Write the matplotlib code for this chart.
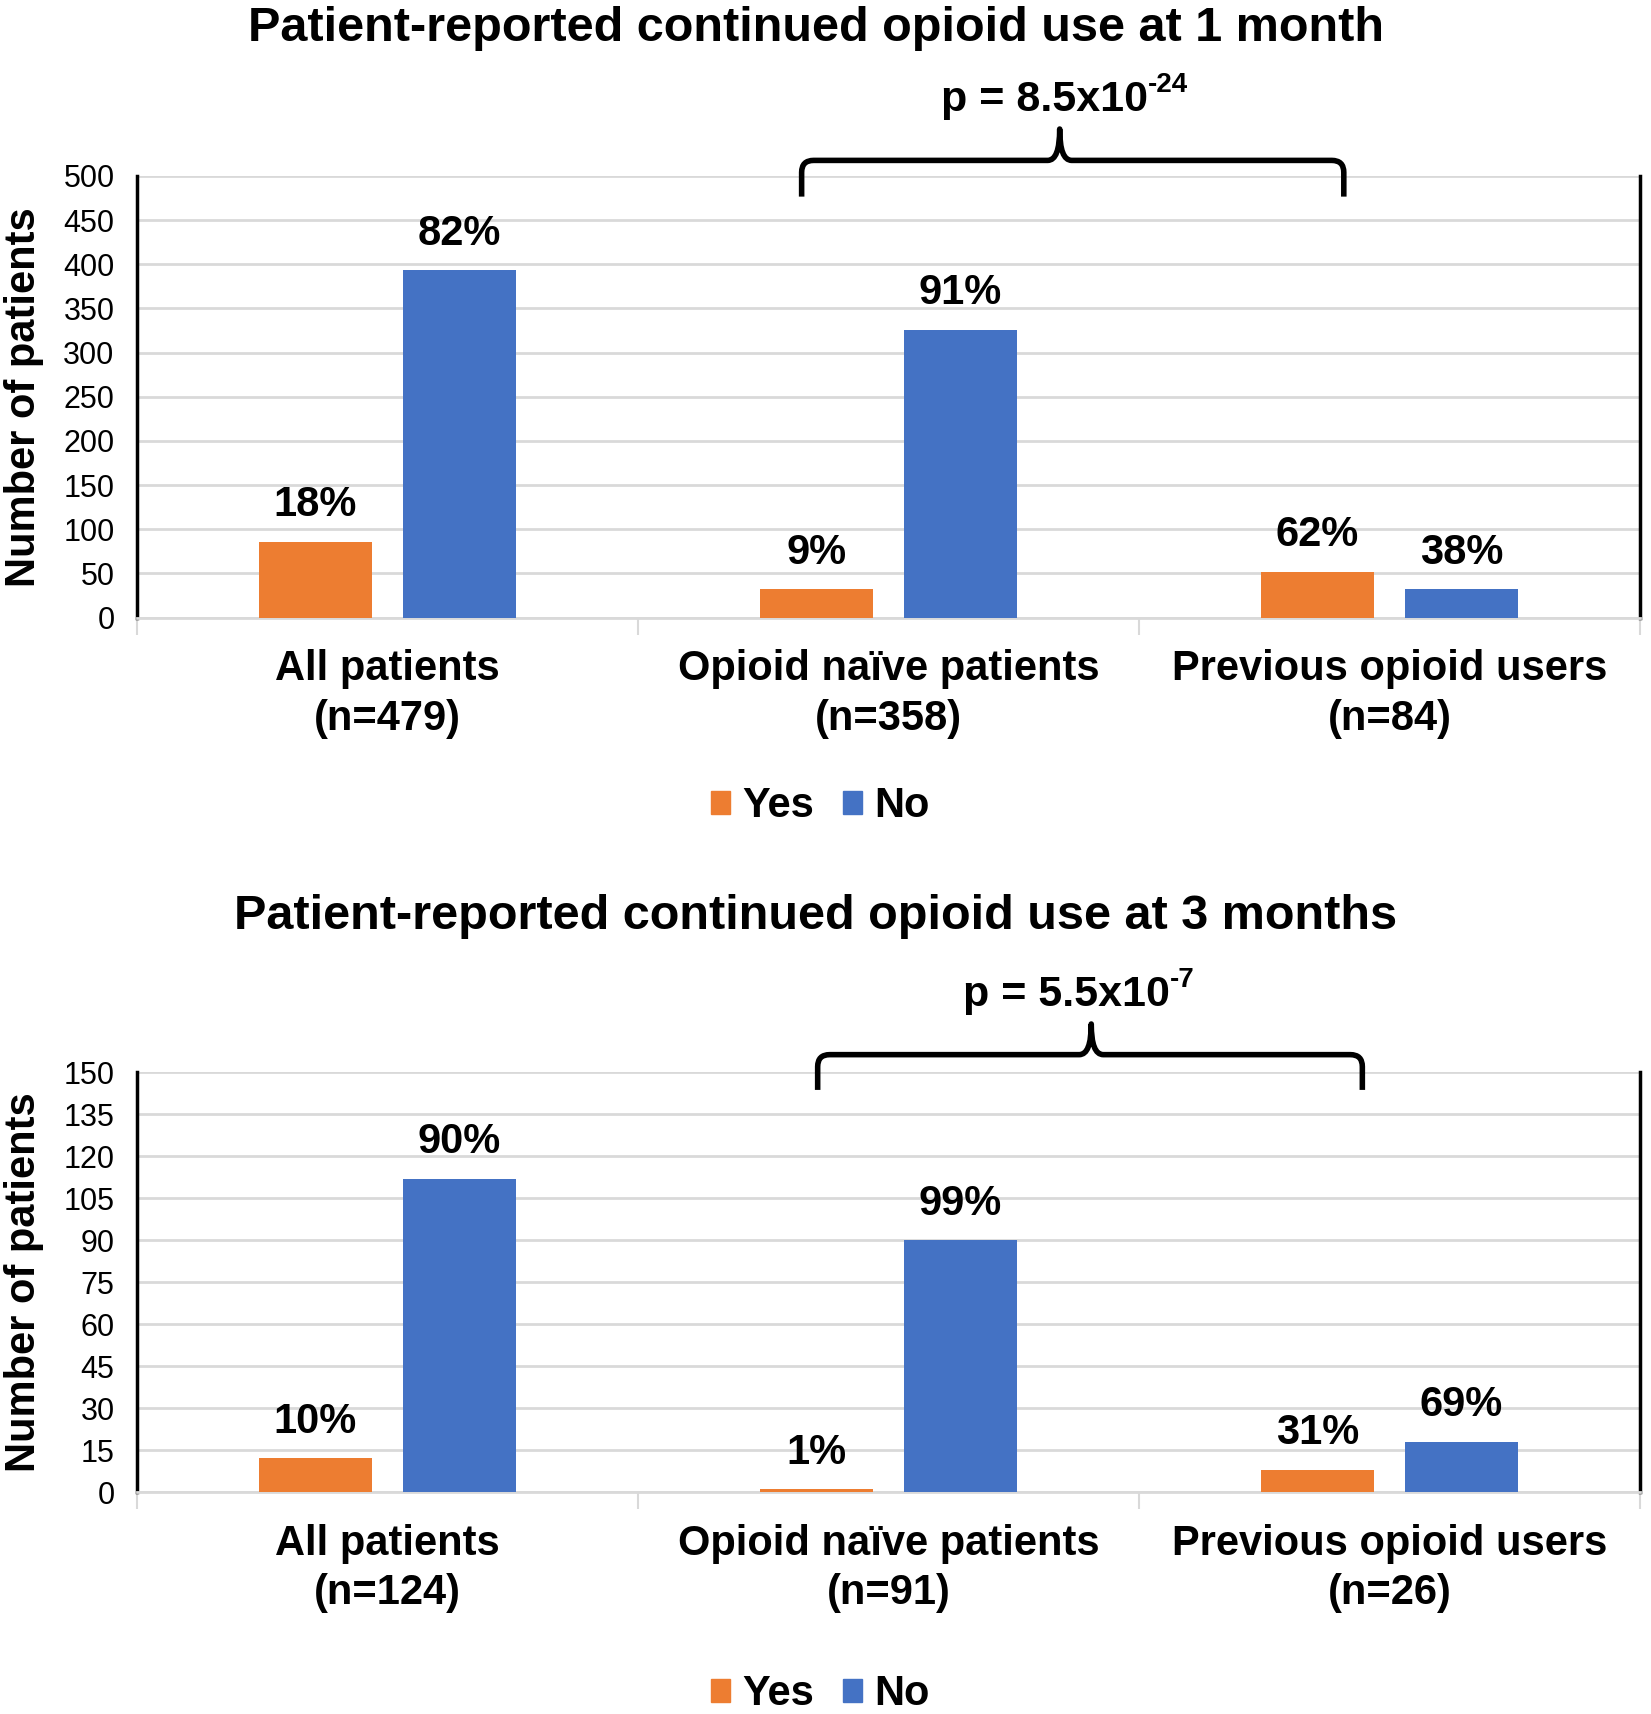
import matplotlib
matplotlib.use("Agg")
import matplotlib.pyplot as plt
from matplotlib import font_manager
from matplotlib.path import Path
from matplotlib.patches import PathPatch, Patch
from matplotlib.transforms import blended_transform_factory, IdentityTransform

# ---- data ----
groups = ["All patients", "Opioid naïve patients", "Previous opioid users"]
n_1m = [479, 358, 84]
yes_1m = [86, 32, 52]
no_1m = [393, 326, 32]
pct_yes_1m = ["18%", "9%", "62%"]
pct_no_1m = ["82%", "91%", "38%"]

n_3m = [124, 91, 26]
yes_3m = [12, 1, 8]
no_3m = [112, 90, 18]
pct_yes_3m = ["10%", "1%", "31%"]
pct_no_3m = ["90%", "99%", "69%"]

titles = ["Patient-reported continued opioid use at 1 month",
          "Patient-reported continued opioid use at 3 months"]
pvals = [("p = 8.5x10", "-24"), ("p = 5.5x10", "-7")]

ORANGE = "#ED7D31"
BLUE = "#4472C4"
GRID = "#D9D9D9"

names = {f.name for f in font_manager.fontManager.ttflist}
NARROW = "Liberation Sans Narrow" if "Liberation Sans Narrow" in names else "Liberation Sans"
WIDE = "Liberation Sans"
plt.rcParams['font.family'] = [WIDE, "DejaVu Sans"]

fig = plt.figure(figsize=(16.51, 17.14), dpi=100)


def brace(ax, x0, x1, xt, yb, yt, ytip, lw=4):
    # x in data coords, y in axes fraction -> pixel coords
    tr = blended_transform_factory(ax.transData, ax.transAxes)
    (px0, pyb), (px1, pyt), (pxt, pytip) = tr.transform([(x0, yb), (x1, yt), (xt, ytip)])
    r = 12
    verts = [(px0, pyb), (px0, pyt - r), (px0, pyt), (px0 + r, pyt),
             (pxt - r, pyt), (pxt, pyt), (pxt, pytip),
             (pxt, pyt), (pxt + r, pyt),
             (px1 - r, pyt), (px1, pyt), (px1, pyt - r), (px1, pyb)]
    codes = [Path.MOVETO, Path.LINETO, Path.CURVE3, Path.CURVE3,
             Path.LINETO, Path.CURVE3, Path.CURVE3,
             Path.CURVE3, Path.CURVE3,
             Path.LINETO, Path.CURVE3, Path.CURVE3, Path.LINETO]
    fig.add_artist(PathPatch(Path(verts, codes), fill=False, lw=lw, color="black",
                             transform=IdentityTransform(), capstyle="butt", joinstyle="round"))


def panel(rect, yes, no, pyes, pno, n, ymax, ystep, title, title_y, pval, br, legend_y):
    ax = fig.add_axes(rect)
    x = list(range(len(groups)))
    bw = 0.225
    off = 0.1435
    b1 = ax.bar([i - off for i in x], yes, bw, color=ORANGE, zorder=3, label="Yes")
    b2 = ax.bar([i + off for i in x], no, bw, color=BLUE, zorder=3, label="No")
    for bars, labs in ((b1, pyes), (b2, pno)):
        for b, t in zip(bars, labs):
            ax.annotate(t, (b.get_x() + b.get_width() / 2, b.get_height()),
                        xytext=(0, 12), textcoords="offset points", ha="center", va="bottom",
                        fontsize=30, fontweight="bold", family=NARROW)
    ax.set_xlim(-0.5, 2.5)
    ax.set_ylim(0, ymax)
    ax.set_yticks(range(0, ymax + 1, ystep))
    ax.yaxis.grid(True, color=GRID, lw=2, zorder=0)
    ax.set_axisbelow(True)
    for lab in ax.get_yticklabels():
        lab.set_family(NARROW)
        lab.set_fontsize(22)
    ax.tick_params(axis="y", length=0, pad=16)
    ax.set_xticks(x)
    ax.set_xticklabels([f"{g}\n(n={k})" for g, k in zip(groups, n)],
                       fontsize=30, fontweight="bold", linespacing=1.3)
    ax.tick_params(axis="x", which="major", length=0, pad=23)
    ax.set_xticks([-0.5, 0.5, 1.5, 2.5], minor=True)
    ax.tick_params(axis="x", which="minor", length=12, width=1.5, color=GRID)
    ax.spines["top"].set_visible(False)
    ax.spines["left"].set_linewidth(2.5)
    ax.spines["right"].set_linewidth(2.5)
    ax.spines["bottom"].set_color(GRID)
    ax.spines["bottom"].set_linewidth(2)
    ax.set_ylabel("Number of patients", fontsize=30, fontweight="bold", va="center")
    ax.yaxis.set_label_coords(-0.075, 0.5)

    fig.text(0.494, title_y, title, ha="center", va="center", fontsize=35, fontweight="bold")

    x0, x1, xt, yb, yt, ytip, ytxt, xtxt = br
    tr = blended_transform_factory(ax.transData, ax.transAxes)
    ax.text(xtxt, ytxt, pval[0], transform=tr, ha="right", va="center",
            fontsize=31, fontweight="bold", family=NARROW, clip_on=False)
    ax.text(xtxt, ytxt + 0.035, pval[1], transform=tr, ha="left", va="center",
            fontsize=20, fontweight="bold", family=NARROW, clip_on=False)
    brace(ax, x0, x1, xt, yb, yt, ytip)

    fig.legend(handles=[Patch(color=ORANGE, label="Yes"), Patch(color=BLUE, label="No")],
               loc="center", bbox_to_anchor=(0.497, legend_y), ncol=2, frameon=False,
               prop={"size": 30, "weight": "bold"}, handlelength=0.45, handleheight=0.45,
               handletextpad=0.3, columnspacing=0.7)
    return ax


panel([0.0828, 0.6397, 0.9105, 0.2577], yes_1m, no_1m, pct_yes_1m, pct_no_1m, n_1m,
      500, 50, titles[0], 0.9835, pvals[0],
      (0.827, 1.909, 1.342, 0.953, 1.035, 1.106, 1.171, 1.518), 0.5295)
panel([0.0828, 0.1295, 0.9105, 0.2449], yes_3m, no_3m, pct_yes_3m, pct_no_3m, n_3m,
      150, 15, titles[1], 0.4652, pvals[1],
      (0.859, 1.946, 1.405, 0.958, 1.042, 1.115, 1.185, 1.562), 0.0115)

fig.savefig("out.png", dpi=100)
